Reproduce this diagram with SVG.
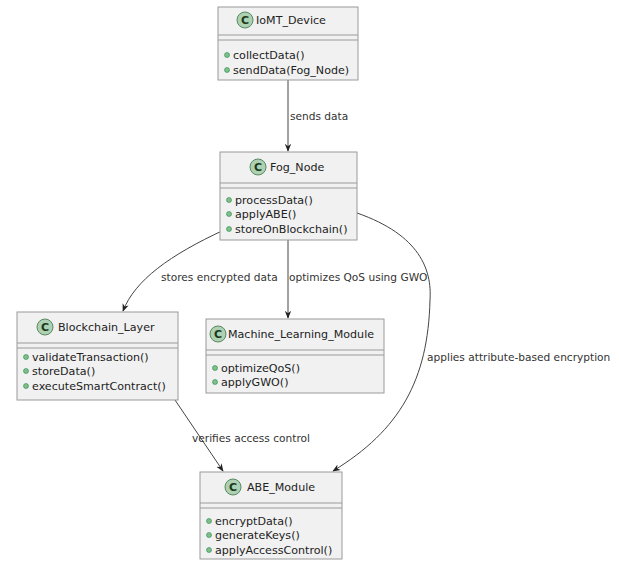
<svg xmlns="http://www.w3.org/2000/svg" width="619" height="563" viewBox="0 0 619 563">
<style>
.box{fill:#F1F1F1;stroke:#9a9a9a;stroke-width:1}
.sep{stroke:#9a9a9a;stroke-width:1}
.circ{fill:#ADD1B2;stroke:#5a8a60;stroke-width:1}
.cl{font-family:"DejaVu Sans",sans-serif;font-size:11px;font-weight:bold;fill:#1a3a1a;text-anchor:middle}
.title{font-family:"DejaVu Sans",sans-serif;font-size:11.1px;fill:#222}
.mem{font-family:"DejaVu Sans",sans-serif;font-size:11.1px;fill:#222}
.vis{fill:#84BE84;stroke:#038048;stroke-width:0.5}
.lbl{font-family:"DejaVu Sans",sans-serif;font-size:10.6px;fill:#333}
.conn{fill:none;stroke:#444;stroke-width:1}
</style>
<defs>
<marker id="arr" viewBox="0 0 10 10" refX="9" refY="5" markerWidth="8" markerHeight="8" orient="auto-start-reverse" markerUnits="userSpaceOnUse">
<path d="M0,1 L10,5 L0,9 L3,5 Z" fill="#222"/>
</marker>
</defs>
<g id="connectors">
<path class="conn" d="M288,80 L288,151" marker-end="url(#arr)"/>
<text class="lbl" x="290" y="120">sends data</text>
<path class="conn" d="M224,230 C170,255 135,280 123,311" marker-end="url(#arr)"/>
<text class="lbl" x="161" y="281">stores encrypted data</text>
<path class="conn" d="M288,240 L288,318" marker-end="url(#arr)"/>
<text class="lbl" x="289" y="281">optimizes QoS using GWO</text>
<path class="conn" d="M357,213 C420,235 432,270 430,300 C428,380 400,430 333,471" marker-end="url(#arr)"/>
<text class="lbl" x="427" y="361">applies attribute-based encryption</text>
<path class="conn" d="M175,400 L223,471" marker-end="url(#arr)"/>
<text class="lbl" x="192" y="442">verifies access control</text>
</g>
<g id="IoMT_Device">
<rect class="box" x="218" y="7" width="140" height="73"/>
<circle class="circ" cx="245" cy="20" r="8"/><text class="cl" x="245" y="24">C</text>
<text class="title" x="256" y="24">IoMT_Device</text>
<line class="sep" x1="218" y1="35" x2="358" y2="35"/>
<line class="sep" x1="218" y1="40" x2="358" y2="40"/>
<circle class="vis" cx="227" cy="55" r="2.5"/><text class="mem" x="233" y="59">collectData()</text>
<circle class="vis" cx="227" cy="70" r="2.5"/><text class="mem" x="233" y="74">sendData(Fog_Node)</text>
</g>
<g id="Fog_Node">
<rect class="box" x="220" y="152" width="137" height="88"/>
<circle class="circ" cx="258" cy="167" r="8"/><text class="cl" x="258" y="171">C</text>
<text class="title" x="270" y="171">Fog_Node</text>
<line class="sep" x1="220" y1="183" x2="357" y2="183"/>
<line class="sep" x1="220" y1="188" x2="357" y2="188"/>
<circle class="vis" cx="229" cy="200" r="2.5"/><text class="mem" x="235" y="204">processData()</text>
<circle class="vis" cx="229" cy="214" r="2.5"/><text class="mem" x="235" y="218">applyABE()</text>
<circle class="vis" cx="229" cy="229" r="2.5"/><text class="mem" x="235" y="233">storeOnBlockchain()</text>
</g>
<g id="Blockchain_Layer">
<rect class="box" x="17" y="312" width="161" height="88"/>
<circle class="circ" cx="45" cy="327" r="8"/><text class="cl" x="45" y="331">C</text>
<text class="title" x="58" y="331">Blockchain_Layer</text>
<line class="sep" x1="17" y1="343" x2="178" y2="343"/>
<line class="sep" x1="17" y1="348" x2="178" y2="348"/>
<circle class="vis" cx="26" cy="357" r="2.5"/><text class="mem" x="32" y="361">validateTransaction()</text>
<circle class="vis" cx="26" cy="371" r="2.5"/><text class="mem" x="32" y="375">storeData()</text>
<circle class="vis" cx="26" cy="386" r="2.5"/><text class="mem" x="32" y="390">executeSmartContract()</text>
</g>
<g id="Machine_Learning_Module">
<rect class="box" x="206" y="319" width="178" height="74"/>
<circle class="circ" cx="218" cy="334" r="8"/><text class="cl" x="218" y="338">C</text>
<text class="title" x="228" y="338">Machine_Learning_Module</text>
<line class="sep" x1="206" y1="350" x2="384" y2="350"/>
<line class="sep" x1="206" y1="355" x2="384" y2="355"/>
<circle class="vis" cx="215" cy="368" r="2.5"/><text class="mem" x="221" y="372">optimizeQoS()</text>
<circle class="vis" cx="215" cy="382" r="2.5"/><text class="mem" x="221" y="386">applyGWO()</text>
</g>
<g id="ABE_Module">
<rect class="box" x="200" y="472" width="142" height="87"/>
<circle class="circ" cx="233" cy="487" r="8"/><text class="cl" x="233" y="491">C</text>
<text class="title" x="247" y="491">ABE_Module</text>
<line class="sep" x1="200" y1="503" x2="342" y2="503"/>
<line class="sep" x1="200" y1="508" x2="342" y2="508"/>
<circle class="vis" cx="209" cy="521" r="2.5"/><text class="mem" x="215" y="525">encryptData()</text>
<circle class="vis" cx="209" cy="535" r="2.5"/><text class="mem" x="215" y="539">generateKeys()</text>
<circle class="vis" cx="209" cy="550" r="2.5"/><text class="mem" x="215" y="554">applyAccessControl()</text>
</g>
</svg>
